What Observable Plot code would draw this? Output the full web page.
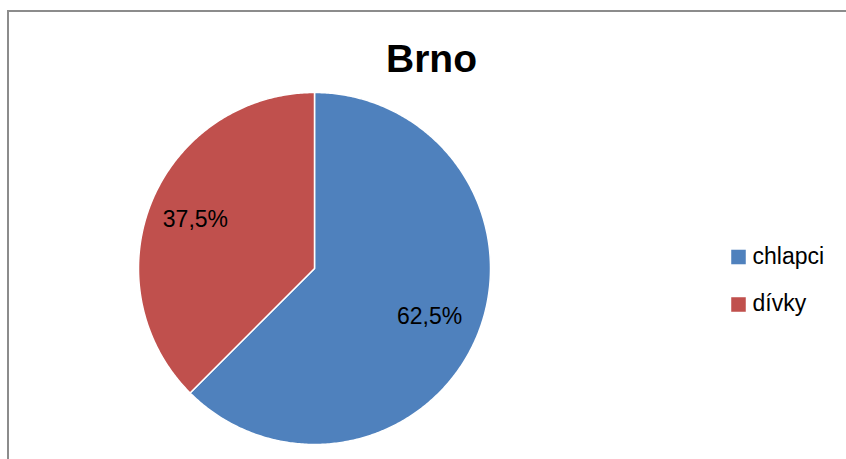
<!DOCTYPE html>
<html><head><meta charset="utf-8">
<script src="https://cdn.jsdelivr.net/npm/d3@7"></script>
<script src="https://cdn.jsdelivr.net/npm/@observablehq/plot@0.6"></script>
<style>
body{margin:0;background:#fff;}
#wrap{position:relative;width:846px;height:459px;overflow:hidden;}
#border{position:absolute;left:7px;top:10px;width:900px;height:500px;border-left:2px solid #8c8c8c;border-top:2px solid #8c8c8c;}
#chart{position:absolute;left:0;top:0;}
</style></head>
<body><div id="wrap"><div id="border"></div><div id="chart"></div></div>
<script>
const title = "Brno";
const categories = ["chlapci", "dívky"];
const values = [62.5, 37.5];
const labels = ["62,5%", "37,5%"];
const colors = ["#4F81BD", "#C0504D"];

const pie = d3.pie().sort(null).value(d => d.value);
const arcs = pie(categories.map((c, i) => ({category: c, value: values[i], label: labels[i]})));

const pts = [];
arcs.forEach(a => {
  pts.push({category: a.data.category, x: 0, y: 0});
  const n = Math.max(2, Math.ceil((a.endAngle - a.startAngle) / 0.01));
  for (let k = 0; k <= n; k++) {
    const t = a.startAngle + (a.endAngle - a.startAngle) * k / n;
    pts.push({category: a.data.category, x: Math.sin(t), y: Math.cos(t)});
  }
});
const lab = arcs.map(a => {
  const m = (a.startAngle + a.endAngle) / 2;
  return {label: a.data.label, x: 0.72 * Math.sin(m), y: 0.72 * Math.cos(m)};
});

const legendMarks = categories.flatMap((c, i) => [
  Plot.dot([c], {frameAnchor: "top-left", dx: 738, dy: 256.5 + i * 47.5, symbol: "square", r: 8.2, fill: colors[i], stroke: "none"}),
  Plot.text([c], {frameAnchor: "top-left", dx: 752, dy: 256 + i * 47.5, text: d => d, textAnchor: "start", lineAnchor: "middle", fontSize: 23, fill: "#000"})
]);

const chart = Plot.plot({
  width: 846, height: 459,
  margin: 0,
  style: {fontFamily: "'Liberation Sans', Arial, sans-serif", background: "transparent", overflow: "visible"},
  x: {domain: [-1, 1], range: [138, 490], axis: null},
  y: {domain: [-1, 1], range: [444, 92], axis: null},
  color: {domain: categories, range: colors},
  marks: [
    Plot.line(pts, {x: "x", y: "y", z: "category", fill: "category", stroke: "white", strokeWidth: 1.5, curve: "linear-closed"}),
    Plot.text(lab, {x: "x", y: "y", text: "label", fontSize: 23, fill: "#000", dx: -2}),
    Plot.text([title], {frameAnchor: "top", dx: 8, dy: 44, text: d => d, fontSize: 39, fontWeight: "bold", fill: "#000"}),
    ...legendMarks
  ]
});
document.getElementById("chart").appendChild(chart);
</script></body></html>
